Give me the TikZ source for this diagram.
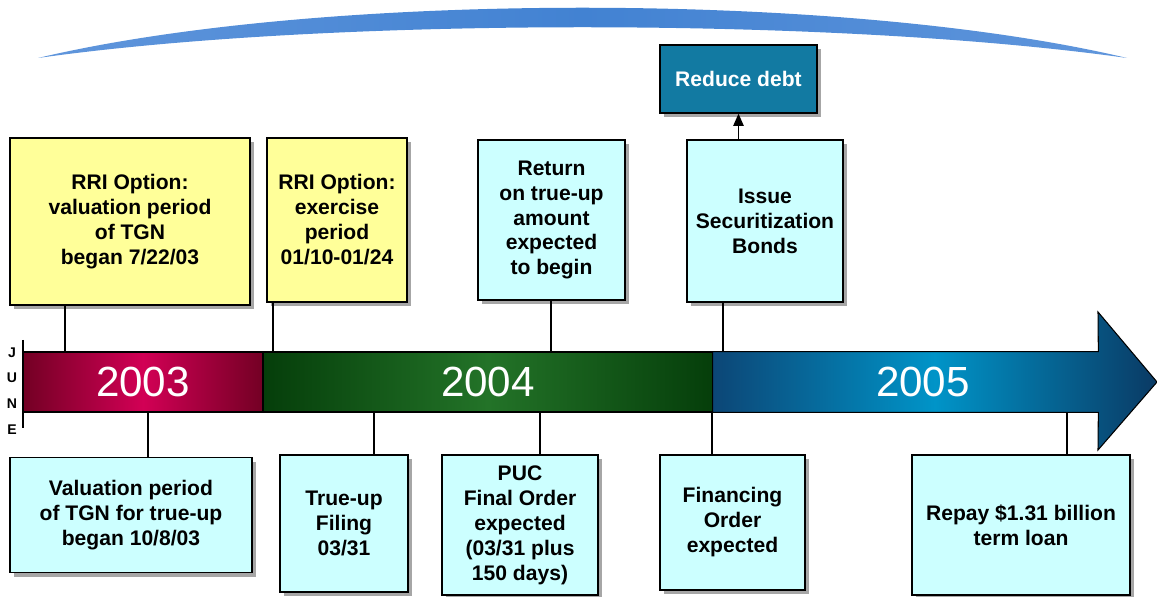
\documentclass[tikz,border=0pt]{standalone}
\usepackage{fontspec}
\setmainfont{Liberation Sans}
\usetikzlibrary{arrows.meta, shadows}

\definecolor{noteyel}{RGB}{255,255,153}
\definecolor{notecya}{RGB}{204,255,255}
\definecolor{debtblue}{RGB}{18,122,162}
\definecolor{arcmid}{RGB}{66,130,210}
\definecolor{arcend}{RGB}{96,150,220}
\definecolor{redend}{RGB}{115,0,36}
\definecolor{redmid}{RGB}{210,0,85}
\definecolor{grnend}{RGB}{5,62,10}
\definecolor{grnmid}{RGB}{35,115,40}
\definecolor{bluend}{RGB}{12,70,118}
\definecolor{blumid}{RGB}{0,148,200}
\definecolor{bluhead}{RGB}{10,58,100}

\begin{document}
\begin{tikzpicture}[
  x=0.02cm, y=-0.02cm,
  note/.style={draw, line width=0.8pt, align=center, inner sep=2pt,
    font=\bfseries\fontsize{12}{14.2}\selectfont,
    drop shadow={shadow xshift=2.5pt, shadow yshift=-2.5pt, fill=black!35, opacity=1}},
  yel/.style={note, fill=noteyel},
  cya/.style={note, fill=notecya},
  sz/.style 2 args={minimum width=#1*0.02cm, minimum height=#2*0.02cm},
  seg/.style={draw, line width=0.6pt, inner sep=0pt, text=white,
    font=\fontsize{24}{24}\selectfont},
  tick/.style={line width=0.6pt}
]
\useasboundingbox (0,0) rectangle (1157,597);

% arc across the top
\shade[left color=arcend, right color=arcend, middle color=arcmid]
  (38,58) .. controls (320,-9) and (845,-9) .. (1127,58)
  .. controls (835,17) and (330,17) .. cycle;

% time line
\node[seg, sz={240}{60}, left color=redend, right color=redend, middle color=redmid] (y03) at (143,382) {2003};
\node[seg, sz={450}{60}, left color=grnend, right color=grnend, middle color=grnmid] (y04) at (488,382) {2004};
\node[sz={385}{60}, inner sep=0pt] (y05) at (905.5,382) {};
\shade[left color=bluend, right color=bluhead, middle color=blumid, draw=black, line width=0.6pt]
  (y05.north west) -- (y05.north east) -- (1098,312) -- (1157,382) -- (1098,450)
  -- (y05.south east) -- (y05.south west) -- cycle;
\node[seg, draw=none] (t05) at (923,382) {2005};

\draw[tick] (23,340) -- (23,428);
\node[font=\bfseries\fontsize{8}{14.7}\selectfont, align=center, inner sep=0pt] (june) at (12,391) {J\\U\\N\\E};

% boxes above
\node[yel, sz={240}{167}] (rri1) at (130,221.5) {RRI Option:\\valuation period\\of TGN\\began 7/22/03};
\node[yel, sz={140}{164}] (rri2) at (337,220) {RRI Option:\\exercise\\period\\01/10-01/24};
\node[cya, sz={147}{160}] (ret) at (551.5,220) {Return\\on true-up\\amount\\expected\\to begin};
\node[cya, sz={156}{162}] (iss) at (765,221) {Issue\\Securitization\\Bonds};
\node[note, fill=debtblue, text=white, sz={157}{68}] (red) at (738.5,79) {Reduce debt};

% boxes below
\node[cya, sz={242}{115}] (val) at (131,515) {Valuation period\\of TGN for true-up\\began 10/8/03};
\node[cya, sz={128}{137}] (tru) at (344,523.5) {True-up\\Filing\\03/31};
\node[cya, sz={156}{140}] (puc) at (520,525) {PUC\\Final Order\\expected\\(03/31 plus\\150 days)};
\node[cya, sz={145}{135}] (fin) at (732.5,522.5) {Financing\\Order\\expected};
\node[cya, sz={218}{140}] (rep) at (1021,525) {Repay \$1.31 billion\\term loan};

% connectors
\foreach \n/\x in {rri1/65, rri2/273, ret/551, iss/723}
  \draw[tick] (\x,0 |- \n.south) -- (\x,0 |- y04.north);
\foreach \n/\x in {val/148, tru/374, puc/540, fin/712, rep/1067}
  \draw[tick] (\x,0 |- y04.south) -- (\x,0 |- \n.north);
\draw[tick, -{Triangle[length=7pt, width=6pt]}] (red.south |- iss.north) -- (red.south);
\end{tikzpicture}
\end{document}
